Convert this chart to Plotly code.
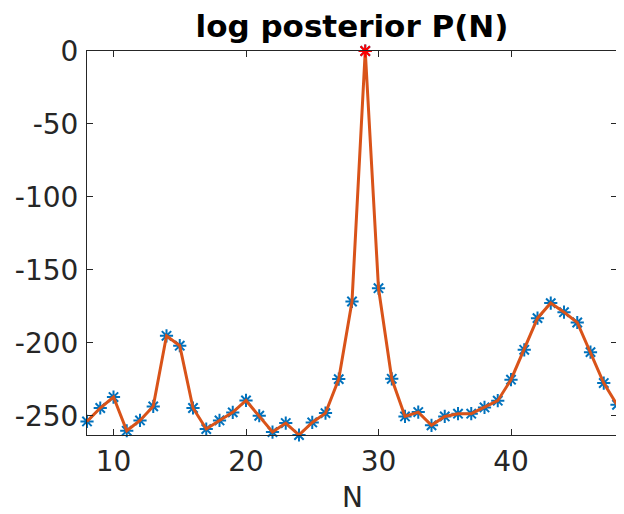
import plotly.graph_objects as go

N = list(range(8, 49))
logp = [-253.9, -244.7, -237.2, -260.3, -253.2, -243.6, -195.2, -202.0, -244.7, -259.1,
        -253.2, -247.7, -239.5, -250.0, -261.2, -255.0, -263.2, -254.6, -248.2, -224.9,
        -171.7, 0.0, -162.6, -224.7, -250.5, -247.5, -256.6, -250.5, -248.6, -248.6,
        -244.3, -239.7, -225.3, -204.8, -183.1, -172.8, -179.0, -186.1, -206.4, -227.6,
        -242.5]
best_N = [29]
best_val = [0.0]
xticks = [10, 20, 30, 40]
yticks = [0, -50, -100, -150, -200, -250]
ytick_labels = ["0", "-50", "-100", "-150", "-200", "-250"]

fig = go.Figure()
fig.add_trace(go.Scatter(x=N, y=logp, mode="markers",
                         marker=dict(symbol="asterisk-open", size=11, color="#0072BD",
                                     line=dict(color="#0072BD", width=2)),
                         showlegend=False, cliponaxis=False))
fig.add_trace(go.Scatter(x=N, y=logp, mode="lines",
                         line=dict(color="#D95319", width=3),
                         showlegend=False, cliponaxis=False))
fig.add_trace(go.Scatter(x=best_N, y=best_val, mode="markers",
                         marker=dict(symbol="asterisk-open", size=11, color="#FF0000",
                                     line=dict(color="#FF0000", width=2)),
                         showlegend=False, cliponaxis=False))

axcol = "#262626"
# page body has an 8px margin, so the figure is sized/offset to compensate
fig.update_layout(
    width=616, height=506,
    margin=dict(l=79, r=7, t=43, b=79),
    paper_bgcolor="white", plot_bgcolor="white",
    font=dict(family="DejaVu Sans", size=28, color=axcol),
    title=dict(text="<b>log posterior P(N)</b>", x=344 / 616, xanchor="center",
               xref="container", yref="container",
               y=1 - 18.5 / 506, yanchor="middle", font=dict(size=31, color="black")),
    annotations=[dict(text="N", x=0.5, xref="paper", y=-0.1628, yref="paper",
                      xanchor="center", yanchor="middle", showarrow=False,
                      font=dict(size=28, color=axcol))],
)
fig.update_xaxes(range=[8, 48], tickvals=xticks, ticks="inside", ticklen=6,
                 tickcolor=axcol, showline=True, linecolor=axcol, linewidth=1,
                 mirror="ticks", showgrid=False, zeroline=False, automargin=False,
                 ticklabelstandoff=1)
fig.update_yaxes(range=[-263.2, 0], tickvals=yticks, ticktext=ytick_labels,
                 ticks="inside", ticklen=6,
                 tickcolor=axcol, showline=True, linecolor=axcol, linewidth=1,
                 mirror="ticks", showgrid=False, zeroline=False, automargin=False,
                 ticklabelstandoff=2)

fig.write_html("out.html")
